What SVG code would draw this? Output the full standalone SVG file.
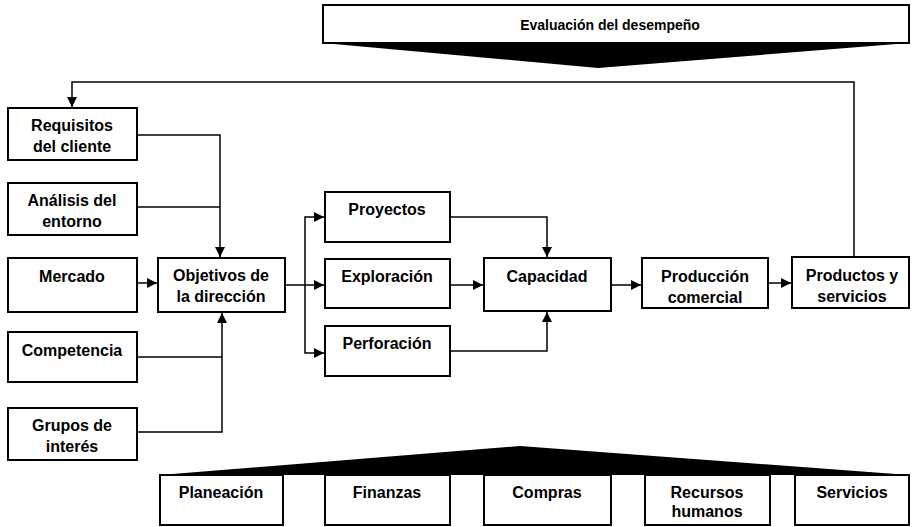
<svg xmlns="http://www.w3.org/2000/svg" width="912" height="527" viewBox="0 0 912 527">
<defs>
<marker id="ah" viewBox="0 0 10 10" refX="10" refY="5" markerWidth="10" markerHeight="10" markerUnits="userSpaceOnUse" orient="auto">
<path d="M0,0 L10,5 L0,10 z" fill="#000"/>
</marker>
<style>
.box{fill:#fff;stroke:#000;stroke-width:2}
.t{font-family:"Liberation Sans",Arial,sans-serif;font-weight:bold;font-size:16px;fill:#000;text-anchor:middle}
.c{fill:none;stroke:#000;stroke-width:1.5}
.a{marker-end:url(#ah)}
</style>
</defs>
<rect width="912" height="527" fill="#fff"/>

<g id="evaluacion">
<rect class="box" x="323" y="5" width="586" height="38"/>
<polygon points="323,43 909,43 598,68" fill="#000"/>
<text class="t" x="610" y="30" style="font-size:14px">Evaluación del desempeño</text>
</g>

<g id="soporte">
<polygon points="160,475 909,475 520,446" fill="#000"/>
</g>

<g id="connectors">
<path class="c a" d="M854,257 V82 H72 V107"/>
<path class="c a" d="M137,135 H220 V257"/>
<path class="c" d="M137,207 H220"/>
<path class="c a" d="M137,283 H157"/>
<path class="c" d="M137,357 H222"/>
<path class="c a" d="M137,432 H222 V313"/>
<path class="c a" d="M285,285 H324"/>
<path class="c a" d="M305,285 V217 H324"/>
<path class="c a" d="M305,285 V353 H324"/>
<path class="c a" d="M450,217 H547 V257"/>
<path class="c a" d="M450,285 H483"/>
<path class="c a" d="M450,351 H547 V312"/>
<path class="c a" d="M611,285 H641"/>
<path class="c a" d="M768,283 H791"/>
</g>

<g id="requisitos"><rect class="box" x="8" y="108" width="129" height="52"/><text class="t" x="72" y="131">Requisitos</text><text class="t" x="72" y="152">del cliente</text></g>
<g id="analisis"><rect class="box" x="8" y="183" width="129" height="52"/><text class="t" x="72" y="206">Análisis del</text><text class="t" x="72" y="227">entorno</text></g>
<g id="mercado"><rect class="box" x="8" y="258" width="129" height="54"/><text class="t" x="72" y="282">Mercado</text></g>
<g id="competencia"><rect class="box" x="8" y="332" width="129" height="50"/><text class="t" x="72" y="356">Competencia</text></g>
<g id="grupos"><rect class="box" x="8" y="408" width="129" height="52"/><text class="t" x="72" y="431">Grupos de</text><text class="t" x="72" y="452">interés</text></g>

<g id="objetivos"><rect class="box" x="158" y="258" width="127" height="54"/><text class="t" x="221" y="281">Objetivos de</text><text class="t" x="221" y="302">la dirección</text></g>

<g id="proyectos"><rect class="box" x="325" y="192" width="125" height="50"/><text class="t" x="387" y="215">Proyectos</text></g>
<g id="exploracion"><rect class="box" x="325" y="259" width="125" height="49"/><text class="t" x="387" y="282">Exploración</text></g>
<g id="perforacion"><rect class="box" x="325" y="326" width="125" height="50"/><text class="t" x="387" y="349">Perforación</text></g>

<g id="capacidad"><rect class="box" x="484" y="258" width="127" height="53"/><text class="t" x="547" y="282">Capacidad</text></g>
<g id="produccion"><rect class="box" x="642" y="258" width="126" height="50"/><text class="t" x="705" y="282">Producción</text><text class="t" x="705" y="303">comercial</text></g>
<g id="productos"><rect class="box" x="792" y="257" width="117" height="51"/><text class="t" x="852" y="281">Productos y</text><text class="t" x="852" y="302">servicios</text></g>

<g id="planeacion"><rect class="box" x="160" y="475" width="123" height="50"/><text class="t" x="221" y="498">Planeación</text></g>
<g id="finanzas"><rect class="box" x="325" y="475" width="125" height="50"/><text class="t" x="387" y="498">Finanzas</text></g>
<g id="compras"><rect class="box" x="484" y="475" width="127" height="50"/><text class="t" x="547" y="498">Compras</text></g>
<g id="recursos"><rect class="box" x="645" y="475" width="125" height="50"/><text class="t" x="707" y="498">Recursos</text><text class="t" x="707" y="517">humanos</text></g>
<g id="servicios"><rect class="box" x="795" y="475" width="114" height="50"/><text class="t" x="852" y="498">Servicios</text></g>
</svg>
